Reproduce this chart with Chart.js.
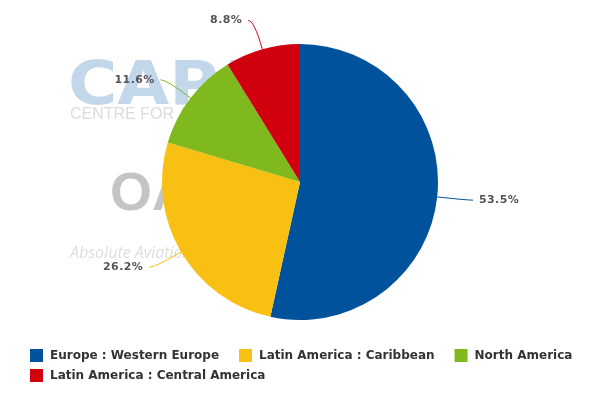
<!DOCTYPE html>
<html>
<head>
<meta charset="utf-8">
<script src="https://cdn.jsdelivr.net/npm/chart.js@4"></script>
<style>
  html, body { margin: 0; padding: 0; background: #fff; }
  #wrap { width: 600px; height: 400px; }
</style>
</head>
<body>
<div id="wrap"><canvas id="pie"></canvas></div>
<script>
const regions = ['Europe : Western Europe', 'Latin America : Caribbean', 'North America', 'Latin America : Central America'];
const shares = [53.5, 26.2, 11.6, 8.8];
const colors = ['#00529c', '#f8c012', '#80b91e', '#d0000f'];

// faint watermark behind the pie
const watermark = {
  id: 'watermark',
  beforeDatasetsDraw(chart) {
    const ctx = chart.ctx;
    ctx.save();
    ctx.fillStyle = '#c3d7ea';
    ctx.font = 'bold 60px "DejaVu Sans"';
    ctx.translate(68, 104);
    ctx.scale(1.12, 1);
    ctx.fillText('CAPA', 0, 0);
    ctx.restore();
    ctx.save();
    ctx.fillStyle = '#dcdcdc';
    ctx.font = '16px "Liberation Sans"';
    ctx.fillText('CENTRE FOR AVIATION', 70, 119);
    ctx.fillStyle = '#c4c4c4';
    ctx.font = 'bold 54px "Liberation Sans"';
    ctx.fillText('OAG', 110, 210);
    ctx.fillStyle = '#dedede';
    ctx.font = 'italic 16px "Open Sans"';
    ctx.fillText('Absolute Aviation Intelligence', 70, 258);
    ctx.restore();
  }
};

// outside labels with connector lines
const outsideLabels = {
  id: 'outsideLabels',
  afterDatasetsDraw(chart) {
    const ctx = chart.ctx;
    const meta = chart.getDatasetMeta(0);
    ctx.save();
    ctx.font = 'bold 11px "DejaVu Sans"';
    ctx.letterSpacing = '0.4px';
    ctx.textBaseline = 'middle';
    meta.data.forEach((arc, i) => {
      const mid = (arc.startAngle + arc.endAngle) / 2;
      const cx = arc.x, cy = arc.y, r = arc.outerRadius;
      const dx = Math.cos(mid), dy = Math.sin(mid);
      const x0 = cx + dx * r, y0 = cy + dy * r;
      const x1 = cx + dx * (r + 30), y1 = cy + dy * (r + 30);
      const right = dx >= 0;
      const x2 = x1 + (right ? 6 : -6);
      ctx.strokeStyle = colors[i];
      ctx.lineWidth = 1;
      ctx.beginPath();
      ctx.moveTo(x0, y0);
      ctx.quadraticCurveTo(x1, y1, x2, y1);
      ctx.stroke();
      ctx.fillStyle = '#555555';
      ctx.textAlign = right ? 'left' : 'right';
      const txt = shares[i].toFixed(1) + '%';
      ctx.fillText(txt, x2 + (right ? 6 : -6), y1);
    });
    ctx.restore();
  }
};

// legend drawn in the bottom band
const bottomLegend = {
  id: 'bottomLegend',
  afterDraw(chart) {
    const ctx = chart.ctx;
    ctx.save();
    ctx.font = 'bold 12px "DejaVu Sans"';
    ctx.textBaseline = 'middle';
    ctx.textAlign = 'left';
    let x = 30, y = 355;
    regions.forEach((name, i) => {
      const w = 20 + ctx.measureText(name).width;
      if (x + w > 580) { x = 30; y += 20; }
      ctx.fillStyle = colors[i];
      ctx.fillRect(x, y - 6, 13, 13);
      ctx.fillStyle = '#333333';
      ctx.fillText(name, x + 20, y + 1);
      x += w + 20;
    });
    ctx.restore();
  }
};

new Chart(document.getElementById('pie'), {
  type: 'pie',
  data: {
    labels: regions,
    datasets: [{
      data: shares,
      backgroundColor: colors,
      borderWidth: 0
    }]
  },
  options: {
    responsive: true,
    maintainAspectRatio: false,
    animation: false,
    layout: { padding: { top: 44, bottom: 80, left: 100, right: 100 } },
    plugins: {
      legend: { display: false },
      tooltip: { enabled: false }
    }
  },
  plugins: [watermark, outsideLabels, bottomLegend]
});
</script>
</body>
</html>
